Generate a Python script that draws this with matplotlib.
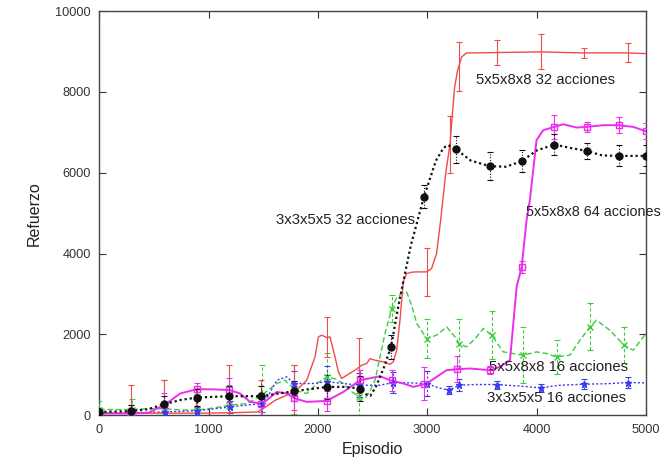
import matplotlib
matplotlib.use('Agg')
import matplotlib.pyplot as plt

plt.rcParams['font.family'] = ['Liberation Sans', 'DejaVu Sans']

# curvas (episodio, refuerzo)
red_x = [0, 300, 600, 900, 1200, 1450, 1520, 1610, 1715, 1807, 1898, 1974, 2005, 2035, 2081,
         2111, 2157, 2188, 2218, 2264, 2340, 2401, 2447, 2477, 2523, 2599, 2660, 2690, 2721,
         2751, 2781, 2812, 2860, 2904, 2995, 3040, 3086, 3123, 3170, 3208, 3250, 3275, 3315,
         3361, 3500, 3635, 4031, 4427, 4823, 5000]
red_y = [50, 50, 50, 50, 60, 80, 200, 370, 495, 620, 866, 1443, 1938, 1980, 1922,
         1938, 1443, 1072, 908, 990, 1114, 1238, 1280, 1400, 1361, 1320, 1260, 1320, 1609,
         2351, 3300, 3507, 3540, 3547, 3547, 3630, 4002, 4826, 6000, 6700, 8100, 8500, 8868,
         8967, 8970, 8976, 8992, 8967, 8967, 8951]
red_ex = [290, 590, 890, 1190, 1480, 1780, 2081, 2380, 3001, 3208, 3290, 3635, 4037, 4436, 4832]
red_ey = [50, 50, 50, 60, 80, 580, 1930, 1230, 3550, 6700, 8630, 8972, 8990, 8970, 8967]
red_err = [690, 830, 600, 1180, 800, 660, 500, 670, 600, 700, 610, 310, 433, 120, 235]

mag_x = [0, 300, 450, 603, 740, 893, 1050, 1197, 1289, 1380, 1487, 1533, 1624, 1716, 1792,
         1898, 2081, 2233, 2386, 2568, 2660, 2782, 2873, 2995, 3086, 3178, 3270, 3391, 3575,
         3665, 3757, 3818, 3864, 3909, 3939, 4000, 4061, 4162, 4244, 4366, 4458, 4610, 4753,
         4884, 5000]
mag_y = [41, 41, 60, 264, 537, 643, 640, 619, 537, 330, 289, 371, 577, 537, 413,
         330, 354, 577, 866, 965, 866, 784, 701, 784, 949, 1114, 1138, 1156, 1114,
         1196, 1361, 3176, 3671, 4826, 5321, 6806, 7054, 7136, 7202, 7120, 7136, 7178, 7178,
         7136, 7029]
mag_ex = [0, 290, 590, 893, 1190, 1481, 1782, 2084, 2386, 2680, 2971, 3270, 3575, 3864,
          4162, 4458, 4753, 5000]
mag_ey = [41, 41, 250, 643, 625, 289, 420, 350, 866, 860, 775, 1138, 1114, 3671,
          7136, 7136, 7178, 7029]
mag_err = [100, 200, 300, 150, 300, 200, 300, 250, 250, 270, 410, 320, 100, 150,
           290, 120, 205, 200]

blk_x = [0, 290, 450, 590, 750, 893, 1190, 1481, 1782, 2084, 2250, 2386, 2440, 2480, 2530,
         2600, 2669, 2750, 2850, 2971, 3080, 3150, 3193, 3263, 3400, 3574, 3720, 3864, 4000,
         4162, 4300, 4458, 4600, 4753, 5000]
blk_y = [80, 100, 150, 270, 380, 437, 470, 470, 595, 700, 700, 660, 520, 480, 700,
         1150, 1690, 2900, 4200, 5413, 6300, 6620, 6683, 6584, 6300, 6163, 6150, 6287, 6550,
         6700, 6620, 6542, 6430, 6418, 6418]
blk_ex = [0, 290, 590, 893, 1190, 1481, 1782, 2084, 2386, 2669, 2971, 3263, 3574, 3864,
          4162, 4458, 4753, 5000]
blk_ey = [80, 100, 270, 437, 470, 470, 595, 700, 660, 1690, 5413, 6584, 6163, 6287,
          6700, 6542, 6418, 6418]
blk_err = [100, 150, 200, 200, 250, 250, 250, 300, 300, 300, 290, 330, 350, 270,
           260, 200, 260, 260]

grn_x = [0, 296, 450, 592, 750, 893, 1050, 1197, 1350, 1487, 1624, 1700, 1792, 1898, 2000,
         2081, 2160, 2233, 2300, 2379, 2431, 2477, 2523, 2614, 2675, 2720, 2767, 2812, 2860,
         2904, 2995, 3086, 3178, 3254, 3293, 3361, 3440, 3513, 3589, 3696, 3788, 3879, 4000,
         4092, 4183, 4305, 4397, 4488, 4549, 4671, 4799, 4884, 5000]
grn_y = [140, 140, 160, 160, 130, 124, 180, 248, 289, 495, 784, 866, 619, 537, 800,
         949, 900, 784, 600, 454, 412, 600, 866, 2021, 2640, 2900, 3012, 3052, 2700,
         2269, 1898, 1980, 2186, 1938, 1774, 1691, 1900, 2145, 1980, 1567, 1526, 1485, 1567,
         1526, 1443, 1485, 1856, 2186, 2351, 2104, 1732, 1609, 2021]
grn_ex = [0, 296, 592, 893, 1190, 1487, 1782, 2081, 2379, 2675, 2995, 3293, 3589, 3879,
          4183, 4488, 4799]
grn_ey = [140, 140, 160, 124, 240, 495, 640, 949, 454, 2640, 1898, 1774, 1980, 1485,
          1443, 2186, 1732]
grn_err = [200, 250, 700, 400, 500, 750, 600, 600, 500, 330, 475, 600, 600, 700,
           430, 580, 450]

blu_x = [0, 296, 603, 893, 1197, 1487, 1550, 1624, 1716, 1782, 1959, 2081, 2233, 2379,
         2568, 2690, 2850, 2995, 3100, 3200, 3290, 3450, 3635, 3850, 4037, 4200, 4433,
         4650, 4832, 5000]
blu_y = [41, 60, 82, 107, 206, 289, 500, 866, 949, 784, 784, 830, 784, 742,
         742, 809, 800, 784, 680, 619, 742, 760, 759, 720, 676, 740, 767,
         780, 809, 800]
blu_ex = [0, 296, 603, 893, 1197, 1487, 1782, 2081, 2379, 2690, 2995, 3200, 3290, 3635,
          4037, 4433, 4832]
blu_ey = [41, 60, 82, 107, 206, 289, 784, 830, 742, 809, 784, 619, 742, 759,
          676, 767, 809]
blu_err = [80, 100, 100, 100, 150, 200, 300, 400, 300, 270, 300, 100, 150, 100,
           100, 120, 130]

fig = plt.figure(figsize=(6.7, 4.66), dpi=100)
ax = fig.add_axes([0.148, 0.109, 0.816, 0.867])


def serie(x, y, ex, ey, err, color, ls, lw, marker, ms, mfc, bar_ls):
    ax.plot(x, y, color=color, ls=ls, lw=lw, zorder=3)
    eb = ax.errorbar(ex, ey, yerr=err, fmt='none', ecolor=color, elinewidth=0.8,
                     capsize=2.5, capthick=0.8, zorder=3)
    eb[2][0].set_linestyle(bar_ls)
    if marker:
        ax.plot(ex, ey, ls='none', marker=marker, ms=ms, color=color,
                mfc=mfc, mew=1.0, zorder=4)


serie(grn_x, grn_y, grn_ex, grn_ey, grn_err, '#3ccc3c', (0, (4, 2)), 1.0, 'x', 4, '#3ccc3c', (0, (3, 2)))
serie(blu_x, blu_y, blu_ex, blu_ey, blu_err, '#3a3aee', (0, (1.5, 1.5)), 1.0, '*', 5, '#3a3aee', (0, (2, 2)))
serie(red_x, red_y, red_ex, red_ey, red_err, '#f04a4a', '-', 1.0, None, 0, None, '-')
serie(mag_x, mag_y, mag_ex, mag_ey, mag_err, '#ee2cee', '-', 1.4, 's', 5, 'none', '-')
serie(blk_x, blk_y, blk_ex, blk_ey, blk_err, '#111111', (0, (1, 1.3)), 1.6, 'o', 5, '#111111', (0, (1, 1.5)))

txt = dict(fontsize=10.7, color='#222222', va='center', ha='left', clip_on=False)
ax.text(3446, 8291, '5x5x8x8 32 acciones', **txt)
ax.text(1618, 4826, '3x3x5x5 32 acciones', **txt)
ax.text(3900, 5024, '5x5x8x8 64 acciones', **dict(txt, fontsize=10.4))
ax.text(3565, 1188, '5x5x8x8 16 acciones', **txt)
ax.text(3546, 421, '3x3x5x5 16 acciones', **txt)

ax.set_xlim(0, 5000)
ax.set_ylim(0, 10000)
ax.set_xticks(range(0, 5001, 1000))
ax.set_yticks(range(0, 10001, 2000))
ax.tick_params(direction='in', length=5, width=0.8, top=True, right=True,
               labelsize=9.2, colors='#333333', pad=6)
for s in ax.spines.values():
    s.set_color('#444444')
    s.set_linewidth(1.0)

ax.set_xlabel('Episodio', fontsize=11.5, color='#222222', labelpad=5)
ax.set_ylabel('Refuerzo', fontsize=11.5, color='#222222', labelpad=10)

fig.savefig('out.png', dpi=100)
